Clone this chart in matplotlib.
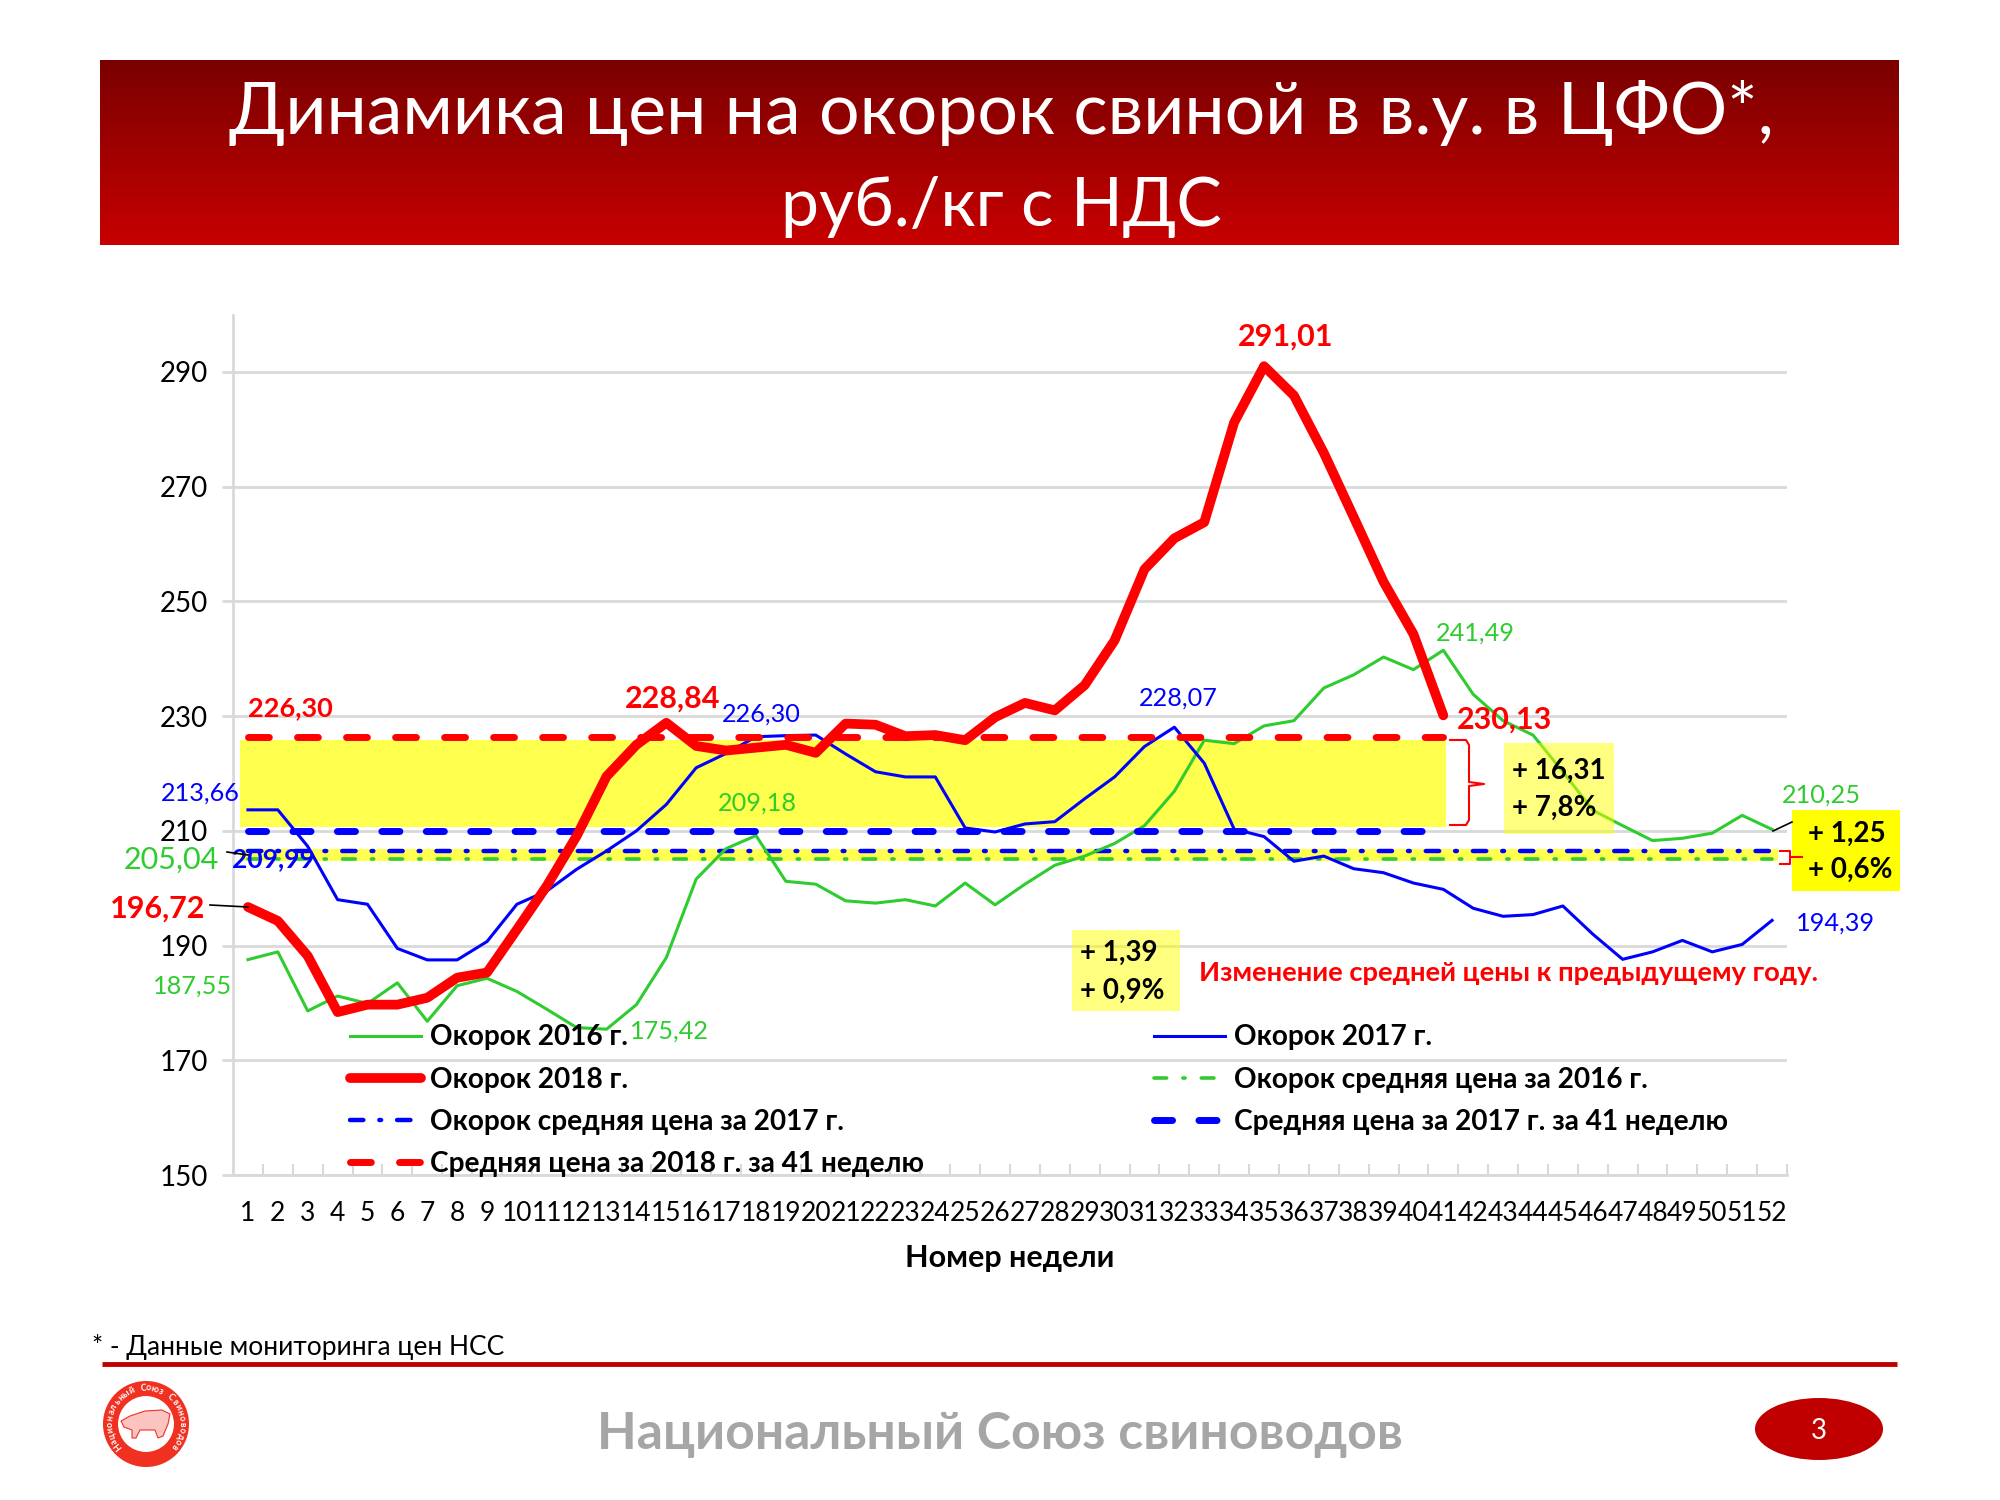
import numpy as np
import matplotlib
matplotlib.use('Agg')
import matplotlib.pyplot as plt
from matplotlib.patches import Circle, Ellipse, Polygon, Rectangle

plt.rcParams['font.family'] = ['Lato', 'Open Sans', 'DejaVu Sans']

weeks = list(range(1, 53))
y_2016 = [187.55, 188.9, 178.6, 181.2, 179.9, 183.5, 176.8, 183.0, 184.3, 182.0, 178.9, 175.7, 175.42,
          179.7, 187.9, 201.6, 206.9, 209.18, 201.2, 200.7, 197.8, 197.4, 198.0, 196.9, 200.9, 197.1,
          200.7, 204.0, 205.6, 207.8, 210.9, 216.9, 225.8, 225.2, 228.3, 229.2, 234.9, 237.2, 240.3,
          238.1, 241.49, 233.8, 229.2, 226.7, 220.3, 213.6, 210.9, 208.3, 208.7, 209.6, 212.7, 210.25]
y_2017 = [213.66, 213.66, 207.3, 198.0, 197.2, 189.5, 187.5, 187.5, 190.7, 197.2, 199.5, 203.3, 206.5,
          210.0, 214.6, 221.0, 223.5, 226.4, 226.6, 226.7, 223.4, 220.3, 219.4, 219.4, 210.5, 209.8,
          211.2, 211.6, 215.6, 219.4, 224.7, 228.07, 221.8, 210.3, 209.0, 204.7, 205.6, 203.4, 202.7,
          200.9, 199.8, 196.5, 195.1, 195.4, 196.9, 192.0, 187.6, 188.9, 190.9, 188.9, 190.2, 194.39]
y_2018 = [196.72, 194.3, 188.2, 178.4, 179.7, 179.7, 180.9, 184.4, 185.3, 192.8, 200.4, 209.1, 219.5,
          225.0, 228.84, 224.8, 224.0, 224.5, 225.0, 223.6, 228.7, 228.5, 226.5, 226.7, 225.8, 229.8,
          232.3, 231.0, 235.4, 243.2, 255.6, 261.0, 263.8, 281.2, 291.01, 285.9, 275.9, 264.7, 253.4,
          244.3, 230.13]
avg_2016 = 205.04
avg_2017 = 206.43
avg_2017_41 = 209.99
avg_2018_41 = 226.30

# label text, series value, week, offset in pixels, colour, size, bold
point_labels = [
    ('226,30', avg_2018_41, 1, 42, 29, '#ff0000', 19.5, True),
    ('228,84', y_2018[14], 15, 6, 24, '#ff0000', 22, True),
    ('291,01', y_2018[34], 35, 22, 30, '#ff0000', 22, True),
    ('230,13', y_2018[40], 41, 61, -4, '#ff0000', 22, True),
    ('196,72', y_2018[0], 1, -90, -2, '#ff0000', 22, True),
    ('205,04', avg_2016, 1, -77, 0, '#2ecc2e', 22, False),
    ('209,99', avg_2017_41, 1, 25, -28, '#0000ff', 19, True),
    ('213,66', y_2017[0], 1, -48, 17, '#0000ff', 18.2, False),
    ('187,55', y_2016[0], 1, -55, -26, '#2ecc2e', 18.2, False),
    ('175,42', y_2016[12], 13, 63, -2, '#2ecc2e', 18.2, False),
    ('226,30', y_2017[18], 19, -25, 22, '#0000ff', 18.2, False),
    ('209,18', y_2016[17], 18, 1, 32, '#2ecc2e', 18.2, False),
    ('228,07', y_2017[31], 32, 4, 29, '#0000ff', 18.2, False),
    ('241,49', y_2016[40], 41, 32, 17, '#2ecc2e', 18.2, False),
    ('210,25', y_2016[51], 52, 49, 34, '#2ecc2e', 18.2, False),
    ('194,39', y_2017[51], 52, 63, -3, '#0000ff', 18.2, False),
]

fig = plt.figure(figsize=(20, 15), dpi=100)

# background layer, pixel coordinates
bg = fig.add_axes([0, 0, 1, 1], zorder=0)
bg.axis('off')
grad = np.linspace(0, 1, 200)[:, None, None] * (np.array([200, 0, 0]) - np.array([122, 0, 0])) + np.array([122, 0, 0])
bg.imshow(grad.astype(np.uint8), extent=(100, 1899, 245, 60), aspect='auto', zorder=1)
bg.set_xlim(0, 2000)
bg.set_ylim(1500, 0)
bg.text(1001, 113, 'Динамика цен на окорок свиной в в.у. в ЦФО*,', color='white', fontsize=51.7,
        ha='center', va='center')
bg.text(1001, 207, 'руб./кг с НДС', color='white', fontsize=49, ha='center', va='center')

ax = fig.add_axes([233 / 2000, 1 - 1175 / 1500, (1787 - 233) / 2000, (1175 - 315) / 1500], zorder=1)
ax.patch.set_alpha(0)
ax.set_xlim(0.5, 52.5)
ax.set_ylim(150, 150 + (1175 - 315) / 5.736)

ax.axhspan(210.7, 225.8, xmin=(0.75 - 0.5) / 52, xmax=(41.1 - 0.5) / 52, color='#ffff4d', lw=0, zorder=1)
ax.axhspan(204.7, 206.9, xmin=(0.75 - 0.5) / 52, xmax=(52.2 - 0.5) / 52, color='#ffff4d', lw=0, zorder=1)

line_2016, = ax.plot(weeks, y_2016, color='#2ecc2e', lw=2.2, zorder=4)
line_2017, = ax.plot(weeks, y_2017, color='#0000ff', lw=2.2, zorder=4)
line_2018, = ax.plot(weeks[:41], y_2018, color='#ff0000', lw=7, zorder=6, solid_capstyle='round')
line_a16, = ax.plot(weeks, [avg_2016] * 52, color='#2ecc2e', lw=2.6, dashes=(3.5, 4.5, 0.6, 4.5),
                    dash_capstyle='round', zorder=3)
line_a17, = ax.plot(weeks, [avg_2017] * 52, color='#0000ff', lw=3.2, dashes=(3, 3.6, 0.4, 3.6),
                    dash_capstyle='round', zorder=3)
line_a17_41, = ax.plot(weeks[:41], [avg_2017_41] * 41, color='#0000ff', lw=5, dashes=(2.6, 3.8),
                       dash_capstyle='round', zorder=5)
line_a18_41, = ax.plot(weeks[:41], [avg_2018_41] * 41, color='#ff0000', lw=5, dashes=(3, 4.06),
                       dash_capstyle='round', zorder=5)

ax.set_yticks(range(150, 291, 20))
ax.set_xticks(weeks)
ax.set_xticks(np.arange(0.5, 53), minor=True)
ax.grid(axis='y', color='#d9d9d9', lw=2)
ax.set_axisbelow(True)
for side in ['top', 'right']:
    ax.spines[side].set_visible(False)
for side in ['left', 'bottom']:
    ax.spines[side].set_color('#d9d9d9')
    ax.spines[side].set_linewidth(2)
ax.tick_params(axis='y', labelsize=20, length=8, width=2, color='#d9d9d9', pad=10)
ax.tick_params(axis='x', which='major', labelsize=19, length=0, pad=19)
ax.tick_params(axis='x', which='minor', length=8, width=1.5, color='#d9d9d9', direction='in')
ax.set_xlabel('Номер недели', fontsize=22, fontweight='bold', labelpad=13)

for text, value, week, dx, dy, color, size, bold in point_labels:
    ax.annotate(text, (week, value), xytext=(dx, dy), textcoords='offset pixels', color=color, fontsize=size,
                fontweight='bold' if bold else 'normal', ha='center', va='center', zorder=8, annotation_clip=False)

handles = [line_2016, line_2018, line_a17, line_a18_41, line_2017, line_a16, line_a17_41]
names = ['Окорок 2016 г.', 'Окорок 2018 г.', 'Окорок средняя цена за 2017 г.', 'Средняя цена за 2018 г. за 41 неделю',
         'Окорок 2017 г.', 'Окорок средняя цена за 2016 г.', 'Средняя цена за 2017 г. за 41 неделю']
leg = ax.legend(handles, names, ncol=2, frameon=False, loc='upper left', bbox_to_anchor=(0.075, 0.175),
                prop={'size': 20.2, 'weight': 'bold'}, handlelength=2.55, handletextpad=0.3,
                labelspacing=0.58, columnspacing=8.2, borderaxespad=0, borderpad=0)
leg.set_zorder(9)

# top layer for boxes and notes
top = fig.add_axes([0, 0, 1, 1], zorder=2)
top.set_xlim(0, 2000)
top.set_ylim(1500, 0)
top.axis('off')
top.patch.set_alpha(0)

top.add_patch(Rectangle((1504, 743), 110, 91, color='#ffff00', alpha=0.5, lw=0))
top.add_patch(Rectangle((1072, 930), 108, 81, color='#ffff00', alpha=0.5, lw=0))
top.add_patch(Rectangle((1792, 810), 108, 81, color='#ffff00', lw=0))
for x, y0, y1, s0, s1 in [(1512, 771, 808, '+ 16,31', '+ 7,8%'), (1080, 953, 991, '+ 1,39', '+ 0,9%'),
                          (1808, 834, 870, '+ 1,25', '+ 0,6%')]:
    top.text(x, y0, s0, fontsize=20, fontweight='bold', va='center')
    top.text(x, y1, s1, fontsize=20, fontweight='bold', va='center')
top.text(1199, 973, 'Изменение средней цены к предыдущему году.', color='#ff0000', fontsize=19.7,
         fontweight='bold', va='center')

# brackets and leader lines
top.plot([1450, 1466, 1469, 1469, 1484, 1469, 1469, 1466, 1450], [740, 740, 745, 782, 784, 786, 820, 825, 825],
         color='#ff0000', lw=1.5)
top.plot([1780, 1790, 1790, 1780], [851, 851, 864, 864], color='#ff0000', lw=1.5)
top.plot([1790, 1802], [857, 857], color='#ff0000', lw=1.5)
top.plot([210, 248], [905, 907], color='black', lw=1.2)
top.plot([227, 248], [852, 855], color='black', lw=1.2)
top.plot([1773, 1792], [831, 822], color='black', lw=1.2)

# footer
top.text(92, 1347, '* - Данные мониторинга цен НСС', fontsize=19, va='center')
top.plot([102, 1897], [1364, 1364], color='#c00000', lw=3.5, solid_capstyle='butt')
top.text(1000, 1435, 'Национальный Союз свиноводов', color='#a6a6a6', fontsize=37.3, fontweight='bold',
         ha='center', va='center')
top.add_patch(Ellipse((1819, 1429), 128, 62, color='#c00000', lw=0))
top.text(1819, 1431, '3', color='white', fontsize=20, ha='center', va='center')

# logo
top.add_patch(Circle((146, 1424), 43, color='#f03020', lw=0))
top.add_patch(Circle((146, 1424), 29, facecolor='white', edgecolor='#f03020', lw=1.5))
top.add_patch(Polygon([[121, 1421], [130, 1416], [145, 1411], [162, 1410], [170, 1414], [168, 1424], [163, 1436],
                       [158, 1438], [155, 1430], [140, 1430], [136, 1438], [132, 1438], [132, 1430], [124, 1427]],
                      facecolor='#fbc4c0', edgecolor='#f03020', lw=0.8))
logo_text = 'Национальный Союз Свиноводов'
for ang, ch in zip(np.linspace(-128, 128, len(logo_text)), logo_text):
    a = np.deg2rad(ang)
    top.text(146 + 36 * np.sin(a), 1424 - 36 * np.cos(a), ch, color='white', fontsize=6.5, fontweight='bold',
             rotation=-ang, ha='center', va='center', rotation_mode='anchor')

fig.savefig('out.png', dpi=100)
